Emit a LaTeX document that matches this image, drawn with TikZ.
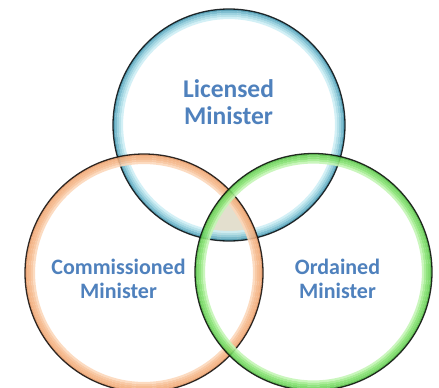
\documentclass[tikz,border=0pt]{standalone}
\usepackage{fontspec}
\setmainfont{Carlito}
\newcommand{\glassring}[7]{%
  \draw[band, draw=#3] (#1) circle ({#2+4});
  \draw[band, draw=#4] (#1) circle ({#2+2});
  \draw[band, draw=#5] (#1) circle ({#2});
  \draw[band, draw=#6] (#1) circle ({#2-2});
  \draw[band, draw=#7] (#1) circle ({#2-4});
  \draw[ringedge] (#1) circle ({#2+5});
}
\begin{document}
\begin{tikzpicture}[x=1pt,y=-1pt,
  band/.style={line width=2.15pt, draw opacity=0.88},
  ringedge/.style={line width=1.3pt, draw=black, draw opacity=0.8},
  lbl/.style={font=\bfseries\fontsize{22}{24}\selectfont, text=txtblue, align=center, inner sep=0pt},
  lblbig/.style={lbl, font=\bfseries\fontsize{25.5}{26.5}\selectfont}
]
\definecolor{txtblue}{RGB}{79,129,189}
\definecolor{bA}{RGB}{70,150,175}
\definecolor{bB}{RGB}{110,182,202}
\definecolor{bC}{RGB}{145,205,220}
\definecolor{bD}{RGB}{175,222,232}
\definecolor{bE}{RGB}{205,238,245}
\definecolor{oA}{RGB}{232,155,105}
\definecolor{oB}{RGB}{243,175,125}
\definecolor{oC}{RGB}{245,182,135}
\definecolor{oD}{RGB}{248,195,155}
\definecolor{oE}{RGB}{252,215,185}
\definecolor{gA}{RGB}{85,190,70}
\definecolor{gB}{RGB}{115,215,95}
\definecolor{gC}{RGB}{130,225,110}
\definecolor{gD}{RGB}{160,235,140}
\definecolor{gE}{RGB}{195,245,180}
\definecolor{mixfill}{RGB}{175,165,115}
\useasboundingbox (0,0) rectangle (439,388);
\fill[white] (0,0) rectangle (439,388);
\coordinate (cB) at (229,125);
\coordinate (cO) at (144,273);
\coordinate (cG) at (313.5,272);
% faint fill of the common centre
\begin{scope}
  \clip (cB) circle (116);
  \clip (cO) circle (119);
  \fill[mixfill, fill opacity=0.35] (cG) circle (118.5);
\end{scope}
\glassring{cB}{111}{bA}{bB}{bC}{bD}{bE}
\glassring{cO}{114}{oA}{oB}{oC}{oD}{oE}
\glassring{cG}{113.5}{gA}{gB}{gC}{gD}{gE}
% labels
\node[lblbig] (lic) at (228.5,102) {Licensed\\Minister};
\node[lbl] (com) at (118.5,279) {Commissioned\\Minister};
\node[lbl] (ord) at (337.5,279) {Ordained\\Minister};
\end{tikzpicture}
\end{document}
